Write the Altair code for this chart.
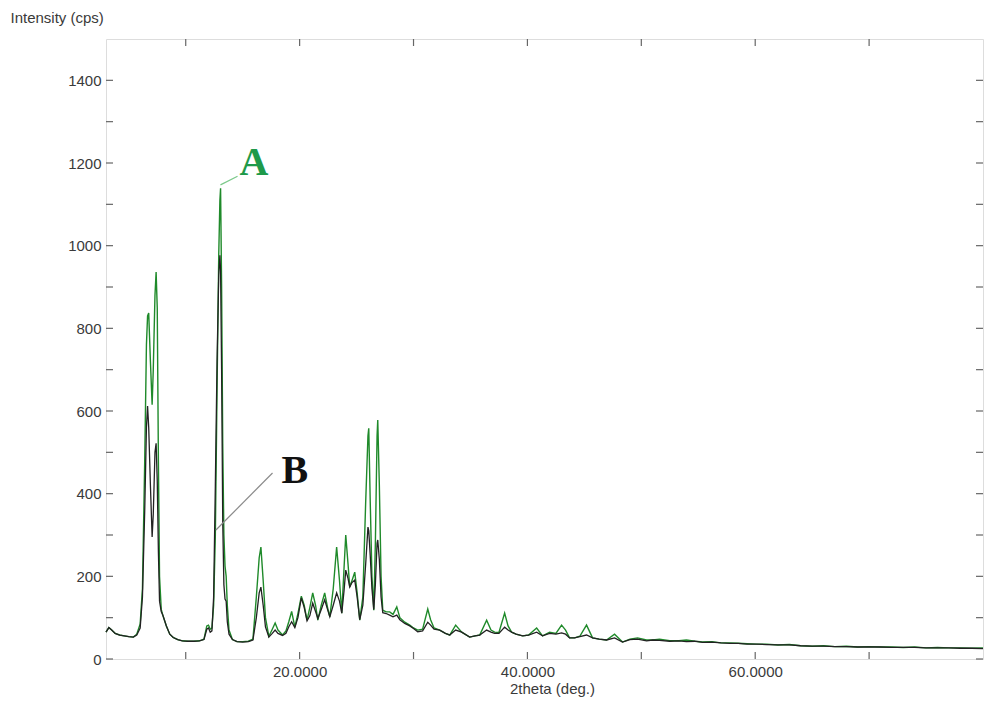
import altair as alt
import pandas as pd

# ---- data ----
two_theta = [3.00, 3.25, 3.50, 3.80, 4.20, 4.60, 5.00, 5.40, 5.70, 6.00,
             6.20, 6.40, 6.55, 6.65, 6.75, 6.90, 7.05, 7.15, 7.30, 7.40,
             7.50, 7.60, 7.70, 7.85, 8.00, 8.30, 8.60, 8.90, 9.30, 9.70,
             10.20, 10.70, 11.20, 11.60, 11.85, 12.00, 12.15, 12.30, 12.45, 12.60,
             12.75, 12.90, 13.00, 13.06, 13.15, 13.25, 13.35, 13.45, 13.55, 13.65,
             13.80, 14.10, 14.50, 15.00, 15.50, 15.90, 16.20, 16.45, 16.60, 16.80,
             17.00, 17.30, 17.60, 17.85, 18.10, 18.50, 18.80, 19.05, 19.30, 19.58,
             19.85, 20.15, 20.40, 20.65, 20.90, 21.15, 21.40, 21.60, 21.90, 22.20,
             22.45, 22.65, 22.95, 23.25, 23.50, 23.70, 23.90, 24.05, 24.25, 24.40,
             24.60, 24.84, 25.05, 25.28, 25.55, 25.80, 26.00, 26.07, 26.20, 26.35,
             26.51, 26.65, 26.80, 26.86, 27.00, 27.15, 27.30, 27.60, 27.91, 28.20,
             28.53, 28.80, 29.23, 29.67, 30.00, 30.37, 30.80, 31.25, 31.50, 31.80,
             32.30, 32.80, 33.18, 33.70, 34.23, 34.93, 35.40, 35.81, 36.42, 36.80,
             37.12, 37.50, 38.00, 38.30, 38.61, 39.00, 39.58, 40.10, 40.81, 41.33,
             41.95, 42.50, 43.00, 43.35, 43.70, 44.14, 44.60, 45.19, 45.72, 46.30,
             46.95, 47.65, 48.35, 49.00, 49.67, 50.46, 51.00, 51.60, 52.50, 53.30,
             53.96, 54.70, 55.37, 56.20, 57.00, 57.74, 58.50, 59.30, 60.11, 61.00,
             62.00, 63.00, 64.00, 65.00, 66.00, 67.00, 68.00, 69.00, 70.00, 71.00,
             72.00, 73.00, 74.00, 75.00, 76.00, 77.00, 78.00, 79.00, 80.00]

intensity_B = [65, 76, 70, 62, 58, 56, 54, 53, 58, 75,
               150, 360, 560, 612, 560, 420, 295, 350, 500, 522,
               430, 260, 140, 115, 105, 80, 60, 52, 47, 44,
               43, 43, 44, 47, 72, 75, 65, 68, 150, 420,
               720, 930, 977, 940, 700, 330, 180, 145, 140, 90,
               60, 47, 42, 41, 42, 46, 100, 160, 174, 130,
               78, 53, 62, 70, 62, 57, 62, 78, 90, 76,
               100, 148, 125, 92, 105, 135, 115, 98, 120, 143,
               120, 102, 130, 160, 140, 111, 165, 215, 195, 174,
               185, 191, 150, 95, 130, 230, 319, 310, 250, 170,
               120, 180, 280, 288, 240, 150, 112, 110, 106, 102,
               106, 95, 86, 80, 74, 66, 68, 89, 82, 72,
               70, 62, 58, 70, 65, 53, 56, 58, 70, 65,
               62, 62, 77, 70, 65, 60, 56, 58, 65, 56,
               62, 60, 63, 60, 51, 51, 54, 58, 51, 48,
               46, 51, 41, 47, 48, 44, 46, 45, 43, 44,
               42, 43, 40, 41, 39, 38, 38, 36, 36, 35,
               34, 34, 32, 31, 31, 30, 30, 29, 29, 29,
               28, 28, 28, 27, 27, 27, 26, 26, 25]

intensity_A = [65, 76, 70, 62, 58, 56, 54, 53, 60, 85,
               170, 480, 760, 830, 837, 720, 615, 700, 880, 936,
               850, 480, 200, 120, 105, 80, 60, 52, 47, 44,
               43, 43, 44, 48, 80, 82, 72, 75, 130, 300,
               650, 980, 1110, 1139, 900, 520, 300, 225, 200, 130,
               70, 47, 42, 42, 43, 48, 150, 245, 271, 190,
               100, 55, 72, 87, 70, 58, 68, 90, 115, 77,
               110, 152, 130, 94, 125, 160, 130, 94, 130, 160,
               125, 102, 170, 271, 190, 111, 220, 300, 230, 174,
               190, 210, 160, 94, 150, 380, 540, 558, 380, 200,
               118, 280, 540, 578, 420, 200, 118, 114, 114, 108,
               126, 100, 89, 82, 75, 70, 72, 121, 95, 75,
               70, 62, 58, 82, 65, 53, 56, 58, 94, 70,
               65, 64, 111, 80, 65, 60, 56, 58, 75, 56,
               65, 62, 82, 70, 51, 51, 55, 82, 51, 48,
               46, 60, 41, 48, 51, 46, 46, 48, 44, 44,
               46, 43, 41, 42, 39, 39, 38, 37, 36, 36,
               34, 35, 32, 31, 32, 30, 31, 29, 30, 29,
               29, 28, 29, 27, 28, 27, 27, 26, 27]

y_tick_values = [0, 100, 200, 300, 400, 500, 600, 700, 800, 900, 1000, 1100, 1200, 1300, 1400]
y_label_values = [0, 200, 400, 600, 800, 1000, 1200, 1400]
x_tick_values = [10, 20, 30, 40, 50, 60, 70]
x_label_values = [20, 40, 60]

label_text = ["A", "B"]
label_x = [15.98, 19.58]
label_y = [1170, 425]
leader_x = [13.05, 12.65]
leader_y = [1147, 312]
leader_x2 = [14.55, 17.62]
leader_y2 = [1168, 450]

# ---- chart ----
W, H = 877, 620
FONT = "Liberation Sans"
TXT = "#3a3a3a"

df = pd.DataFrame({"two_theta": two_theta, "A": intensity_A, "B": intensity_B})
xs = alt.Scale(domain=[3, 80], nice=False, zero=False)
ys = alt.Scale(domain=[0, 1500], nice=False)

x_axis = alt.Axis(values=x_label_values, format=".4f", ticks=False, domain=False, grid=False,
                  labelPadding=5, labelFont=FONT, labelFontSize=15, labelColor=TXT,
                  title="2theta (deg.)", titleFont=FONT, titleFontSize=15, titleFontWeight="normal",
                  titleColor=TXT, titleX=446, titleY=34, titleAlign="center",
                  titleBaseline="alphabetic")
y_axis = alt.Axis(values=y_label_values, format="d", ticks=False, domain=False, grid=False,
                  labelPadding=5, labelFont=FONT, labelFontSize=15, labelColor=TXT,
                  title="Intensity (cps)", titleFont=FONT, titleFontSize=15, titleFontWeight="normal",
                  titleColor=TXT, titleAngle=0, titleX=-96, titleY=-17, titleAlign="left",
                  titleBaseline="alphabetic")

lineA = alt.Chart(df).mark_line(color="#1f8a2a", strokeWidth=1.4).encode(
    x=alt.X("two_theta:Q", scale=xs, axis=x_axis),
    y=alt.Y("A:Q", scale=ys, axis=y_axis),
)
lineB = alt.Chart(df).mark_line(color="#222222", strokeWidth=1.3).encode(
    x=alt.X("two_theta:Q", scale=xs, axis=None),
    y=alt.Y("B:Q", scale=ys, axis=None),
)

yt = pd.DataFrame({"v": y_tick_values})
xt = pd.DataFrame({"v": x_tick_values})
TICK = "#666666"
tick_left = alt.Chart(yt).mark_rule(color=TICK, strokeWidth=1.2).encode(
    y=alt.Y("v:Q", scale=ys, axis=None), x=alt.value(0), x2=alt.value(7))
tick_right = alt.Chart(yt).mark_rule(color=TICK, strokeWidth=1.2).encode(
    y=alt.Y("v:Q", scale=ys, axis=None), x=alt.value(W), x2=alt.value(W - 7))
tick_bottom = alt.Chart(xt).mark_rule(color=TICK, strokeWidth=1.2).encode(
    x=alt.X("v:Q", scale=xs, axis=None), y=alt.value(H), y2=alt.value(H - 7))
tick_top = alt.Chart(xt).mark_rule(color=TICK, strokeWidth=1.2).encode(
    x=alt.X("v:Q", scale=xs, axis=None), y=alt.value(0), y2=alt.value(7))

ann = pd.DataFrame({"t": label_text, "x": label_x, "y": label_y,
                    "lx": leader_x, "ly": leader_y, "lx2": leader_x2, "ly2": leader_y2})
leaders = alt.Chart(ann).mark_rule(strokeWidth=1.2).encode(
    x=alt.X("lx:Q", scale=xs, axis=None), y=alt.Y("ly:Q", scale=ys, axis=None),
    x2="lx2:Q", y2="ly2:Q",
    color=alt.Color("t:N", scale=alt.Scale(domain=["A", "B"], range=["#7cc98a", "#8a8a8a"]), legend=None),
)
labels = alt.Chart(ann).mark_text(font="Liberation Serif", fontWeight="bold", fontSize=40,
                                  align="center", baseline="alphabetic").encode(
    x=alt.X("x:Q", scale=xs, axis=None), y=alt.Y("y:Q", scale=ys, axis=None),
    text="t:N",
    color=alt.Color("t:N", scale=alt.Scale(domain=["A", "B"], range=["#1f9a4a", "#111111"]), legend=None),
)

chart = alt.layer(lineA, lineB, tick_left, tick_right, tick_bottom, tick_top, leaders, labels).resolve_scale(
    color="independent"
).resolve_axis(x="independent", y="independent").properties(
    width=W, height=H, autosize="none",
    padding={"left": 98, "top": 31, "right": 1, "bottom": 39},
).configure_view(stroke="#777777", strokeWidth=1.5).configure(background="white")

chart.save("out.html", embed_options={"renderer": "svg", "actions": False})
